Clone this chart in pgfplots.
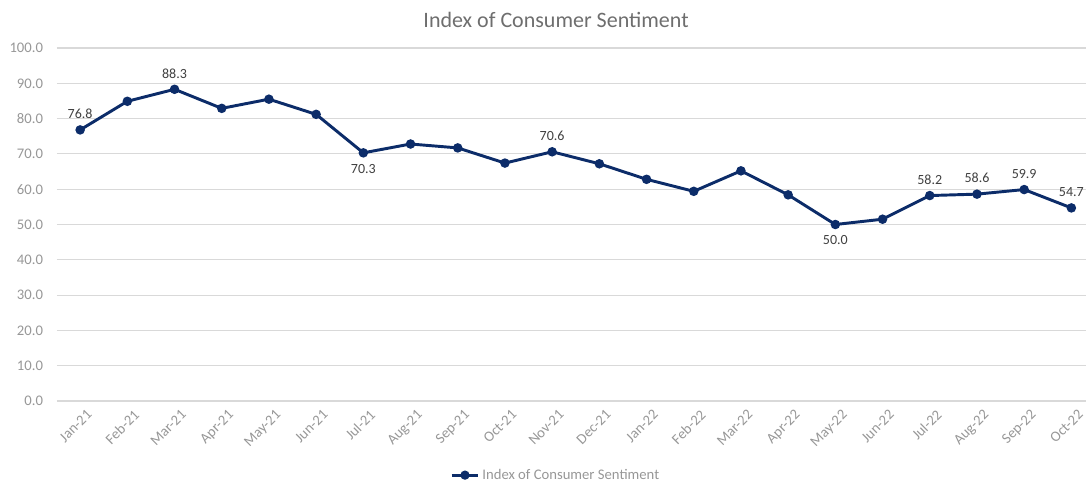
\documentclass[border=0pt]{standalone}
\usepackage{fontspec}
\setmainfont{Carlito}
\usepackage{pgfplots}
\usepackage{pgfplotstable}
\pgfplotsset{compat=1.18}
\definecolor{navy}{HTML}{0C2C69}
\definecolor{ticklbl}{HTML}{979797}
\definecolor{ttl}{HTML}{6E6E6E}
\definecolor{gridc}{HTML}{D9D9D9}
\definecolor{lbl}{HTML}{404040}
\def\px{0.75pt}

% x, value, label, label offset (px; + above, - below)
\pgfplotstableread{
x  y     lab   off
0  76.8  76.8  16
1  84.9  {}    16
2  88.3  88.3  16
3  82.9  {}    16
4  85.5  {}    16
5  81.2  {}    16
6  70.3  70.3  -16
7  72.8  {}    16
8  71.7  {}    16
9  67.4  {}    16
10 70.6  70.6  16
11 67.2  {}    16
12 62.8  {}    16
13 59.4  {}    16
14 65.2  {}    16
15 58.4  {}    16
16 50.0  50.0  -16
17 51.5  {}    16
18 58.2  58.2  16
19 58.6  58.6  16
20 59.9  59.9  16
21 54.7  54.7  16
}\ics

\begin{document}
\begin{tikzpicture}
\path[use as bounding box] (0,0) rectangle (1086*\px,482*\px);
\begin{axis}[
  at={(57*\px,81*\px)}, anchor=south west,
  scale only axis, width=1029*\px, height=353*\px,
  xmin=-0.49, xmax=21.31, ymin=0, ymax=100,
  ytick={0,10,...,100},
  xtick={0,...,21},
  xticklabels={Jan-21,Feb-21,Mar-21,Apr-21,May-21,Jun-21,Jul-21,Aug-21,Sep-21,Oct-21,Nov-21,Dec-21,Jan-22,Feb-22,Mar-22,Apr-22,May-22,Jun-22,Jul-22,Aug-22,Sep-22,Oct-22},
  /pgf/number format/assume math mode=true,
  /pgf/number format/.cd, fixed, fixed zerofill, precision=1, /pgfplots/.cd,
  axis line style={draw=none},
  major tick style={draw=none},
  ymajorgrids, grid style={gridc, line width=0.9pt},
  tick label style={font=\fontsize{11}{13}\selectfont, text=ticklbl},
  yticklabel style={xshift=-7pt},
  xticklabel style={rotate=45, anchor=north east, inner sep=1pt, xshift=0pt, yshift=-6pt},
  title={Index of Consumer Sentiment},
  title style={font=\fontsize{16.5}{19}\selectfont, text=ttl, at={(0.485,1)}, anchor=center, yshift=15pt},
  legend style={at={(0.485,-0.21)}, anchor=center, draw=none, fill=none,
    font=\fontsize{11}{13}\selectfont, text=ticklbl, inner sep=0pt},
  legend image code/.code={
    \draw[mark repeat=2, mark phase=2, #1] plot coordinates {(0cm,0cm) (0.35cm,0cm) (0.7cm,0cm)};},
  legend style={/tikz/every even column/.append style={column sep=0pt}},
  clip=false,
]
\addlegendimage{navy, line width=2.2pt, mark=*, mark size=2.3pt, mark options={solid}}
\addlegendentry{Index of Consumer Sentiment}
\addplot[navy, line width=2.2pt, mark=*, mark size=2.4pt,
  mark options={solid}, forget plot,
  point meta=explicit symbolic,
  visualization depends on={\thisrow{off} \as \off},
  nodes near coords,
  nodes near coords style={font=\fontsize{10.5}{12}\selectfont, text=lbl, anchor=center, yshift=\off*\px},
] table[x=x, y=y, meta=lab] {\ics};
\end{axis}
\end{tikzpicture}
\end{document}
